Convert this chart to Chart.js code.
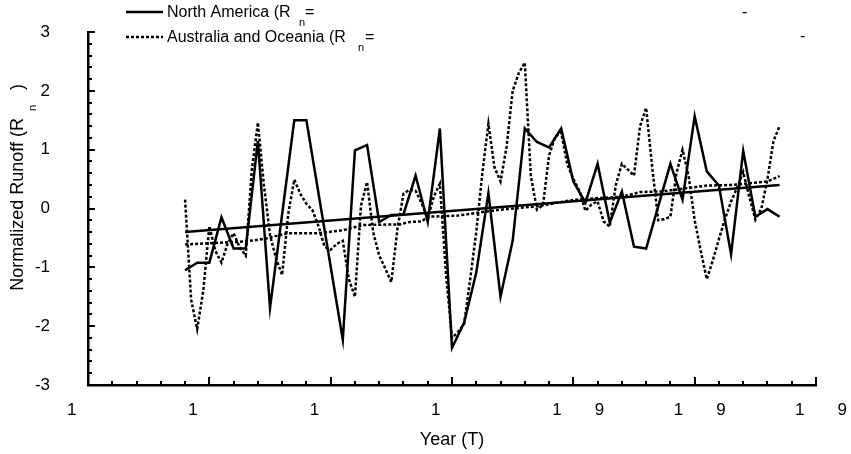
<!DOCTYPE html>
<html>
<head>
<meta charset="utf-8">
<script src="https://cdn.jsdelivr.net/npm/chart.js@4.4.0/dist/chart.umd.min.js"></script>
<style>
  html, body { margin: 0; padding: 0; background: #fff; }
  #wrap { width: 851px; height: 454px; }
</style>
</head>
<body>
<div id="wrap"><canvas id="myChart"></canvas></div>
<script>
// North America runoff (yearly steps on the x axis)
const naYears = [8, 9, 10, 11, 12, 13, 14, 15, 17, 18,
  21, 22, 23, 24, 25, 26, 27, 28, 29, 30,
  31, 32, 33, 34, 35, 36, 37, 38, 39, 40,
  41, 42, 43, 44, 45, 46, 48, 49, 50, 51,
  52, 53, 54, 55, 56, 57];
const naRunoff = [-1.05, -0.92, -0.92, -0.15, -0.68, -0.68, 1.15, -1.69, 1.50, 1.50,
  -2.23, 0.99, 1.08, -0.23, -0.11, -0.10, 0.56, -0.23, 1.36, -2.37,
  -1.94, -1.09, 0.26, -1.50, -0.55, 1.36, 1.13, 1.04, 1.36, 0.46,
  0.10, 0.76, -0.24, 0.29, -0.65, -0.68, 0.76, 0.15, 1.57, 0.63,
  0.39, -0.78, 0.98, -0.14, -0.01, -0.14];

// Australia and Oceania runoff (half steps)
const auYears = [8, 8.5, 9, 9.5, 10, 10.5, 11, 11.5, 12, 12.5,
  13, 13.5, 14, 14.5, 15, 15.5, 16, 16.5, 17, 17.5,
  18, 18.5, 19, 19.5, 20, 20.5, 21, 21.5, 22, 22.5,
  23, 23.5, 24, 24.5, 25, 25.5, 26, 26.5, 27, 27.5,
  28, 28.5, 29, 29.5, 30, 30.5, 31, 31.5, 32, 32.5,
  33, 33.5, 34, 34.5, 35, 35.5, 36, 36.5, 37, 37.5,
  38, 38.5, 39, 39.5, 40, 40.5, 41, 41.5, 42, 42.5,
  43, 43.5, 44, 44.5, 45, 45.5, 46, 46.5, 47, 47.5,
  48, 48.5, 49, 49.5, 50, 50.5, 51, 51.5, 52, 52.5,
  53, 53.5, 54, 54.5, 55, 55.5, 56, 56.5, 57];
const auRunoff = [0.15, -1.55, -2.05, -1.40, -0.30, -0.72, -0.92, -0.60, -0.42, -0.66,
  -0.80, 0.65, 1.46, 0.40, -0.45, -0.85, -1.13, -0.10, 0.49, 0.25,
  0.08, -0.03, -0.30, -0.65, -0.70, -0.60, -0.55, -1.20, -1.50, 0.05,
  0.45, -0.40, -0.80, -1.02, -1.25, -0.35, 0.25, 0.32, 0.30, 0.09,
  -0.17, 0.20, 0.42, -1.10, -2.20, -2.10, -1.96, -1.20, -0.40, 0.60,
  1.44, 0.70, 0.46, 1.05, 2.00, 2.30, 2.48, 0.55, -0.02, 0.06,
  0.90, 1.22, 1.29, 0.75, 0.50, 0.30, -0.04, 0.07, 0.12, -0.22,
  -0.31, 0.40, 0.76, 0.66, 0.56, 1.40, 1.71, 0.70, -0.20, -0.18,
  -0.14, 0.60, 1.00, 0.55, -0.20, -0.72, -1.20, -0.88, -0.52, -0.18,
  0.12, 0.35, 0.62, 0.20, -0.19, 0.00, 0.50, 1.15, 1.40];

// trend lines
const naTrendYears = [8, 57];
const naTrend = [-0.40, 0.40];
const auTrendYears = [8, 13, 14.7, 16.4, 19, 21, 22.7, 25.7, 26.5, 27.5,
  28, 30.5, 32.5, 34, 35, 36.7, 37.7, 39, 40.1, 42.3,
  44, 45.5, 47.3, 51, 53, 56, 57];
const auTrend = [-0.61, -0.56, -0.51, -0.42, -0.42, -0.37, -0.28, -0.27, -0.23, -0.22,
  -0.14, -0.12, -0.06, -0.02, 0.00, 0.03, 0.06, 0.11, 0.15, 0.18,
  0.20, 0.28, 0.29, 0.39, 0.40, 0.46, 0.55];

// axis tick labels
const xMajorValues = [0, 10, 20, 30, 40, 50, 60];
const xTickLabels = ['1', '1', '1', '1', '1       9', '1       9', '1       9'];
const yMajorValues = [-3, -2, -1, 0, 1, 2, 3];
const yTickLabels = ['-3', '-2', '-1', '0', '1', '2', '3'];

const FONT = '"Liberation Sans", Arial, Helvetica, sans-serif';

const toPoints = (xs, ys) => xs.map((x, i) => ({ x: x, y: ys[i] }));

// inward tick marks, legend and y title with subscript
const decorPlugin = {
  id: 'decor',
  afterDraw(chart) {
    const ctx = chart.ctx;
    const xs = chart.scales.x;
    const ys = chart.scales.y;
    const area = chart.chartArea;
    ctx.save();
    ctx.strokeStyle = '#000';
    ctx.lineWidth = 2;
    xs.ticks.forEach(t => {
      const px = Math.round(xs.getPixelForValue(t.value));
      const len = Math.round(t.value) % 10 === 0 ? 8 : 4;
      ctx.beginPath();
      ctx.moveTo(px, area.bottom);
      ctx.lineTo(px, area.bottom - len);
      ctx.stroke();
    });
    ys.ticks.forEach(t => {
      const py = Math.round(ys.getPixelForValue(t.value));
      const major = Math.abs(t.value - Math.round(t.value)) < 1e-6;
      ctx.beginPath();
      ctx.moveTo(area.left, py);
      ctx.lineTo(area.left + (major ? 7 : 4), py);
      ctx.stroke();
    });

    // legend
    ctx.fillStyle = '#000';
    ctx.lineWidth = 2.5;
    ctx.beginPath();
    ctx.moveTo(126, 12);
    ctx.lineTo(163, 12);
    ctx.stroke();
    ctx.setLineDash([3, 2]);
    ctx.beginPath();
    ctx.moveTo(126, 37);
    ctx.lineTo(163, 37);
    ctx.stroke();
    ctx.setLineDash([]);

    ctx.textBaseline = 'middle';
    ctx.textAlign = 'left';
    ctx.font = '16px ' + FONT;
    ctx.fillText('North America (R', 167, 13);
    ctx.fillText('Australia and Oceania (R', 167, 38);
    ctx.fillText('=', 305, 13);
    ctx.fillText('=', 365, 38);
    ctx.fillText('-', 742, 13);
    ctx.fillText('-', 800, 37);
    ctx.font = '11px ' + FONT;
    ctx.fillText('n', 299, 23);
    ctx.fillText('n', 358, 48);

    // y axis title
    ctx.font = '18px ' + FONT;
    const main = 'Normalized Runoff (R';
    const w = ctx.measureText(main).width;
    ctx.translate(18, 118 + w);
    ctx.rotate(-Math.PI / 2);
    ctx.fillText(main, 0, 0);
    ctx.fillText(')', w + 28, 0);
    ctx.font = '11px ' + FONT;
    ctx.fillText('n', w + 7, 15);
    ctx.restore();
  }
};

const ctx = document.getElementById('myChart').getContext('2d');
const chart = new Chart(ctx, {
  type: 'line',
  data: {
    datasets: [
      {
        label: 'North America',
        data: toPoints(naYears, naRunoff),
        borderColor: '#000',
        borderWidth: 2.5,
        pointRadius: 0,
        tension: 0,
        fill: false,
      },
      {
        label: 'Australia and Oceania',
        data: toPoints(auYears, auRunoff),
        borderColor: '#000',
        borderWidth: 2.5,
        borderDash: [3, 2],
        pointRadius: 0,
        tension: 0,
        fill: false,
      },
      {
        label: 'North America trend',
        data: toPoints(naTrendYears, naTrend),
        borderColor: '#000',
        borderWidth: 2.5,
        pointRadius: 0,
        fill: false,
      },
      {
        label: 'Australia and Oceania trend',
        data: toPoints(auTrendYears, auTrend),
        borderColor: '#000',
        borderWidth: 2.5,
        borderDash: [3, 2],
        pointRadius: 0,
        fill: false,
      },
    ],
  },
  options: {
    responsive: true,
    maintainAspectRatio: false,
    animation: false,
    devicePixelRatio: 1,
    layout: { padding: { left: 0, right: 35, top: 32, bottom: 0 } },
    plugins: {
      legend: { display: false },
      tooltip: { enabled: false },
    },
    scales: {
      x: {
        type: 'linear',
        min: 0,
        max: 60,
        grid: { display: false, drawTicks: false },
        border: { display: true, color: '#000', width: 2.5 },
        ticks: {
          stepSize: 2,
          autoSkip: false,
          maxRotation: 0,
          minRotation: 0,
          align: 'start',
          labelOffset: -21,
          padding: 15,
          color: '#000',
          font: { family: FONT, size: 17 },
          callback: v => {
            const i = xMajorValues.indexOf(Math.round(v));
            return i >= 0 && Math.abs(v - Math.round(v)) < 1e-6 ? xTickLabels[i] : '';
          },
        },
        title: {
          display: true,
          text: 'Year (T)',
          color: '#000',
          font: { family: FONT, size: 18 },
          padding: { top: 0, bottom: 3 },
        },
        afterFit: s => {
          s.height = 69;
          s.paddingLeft = 0;
          s.paddingRight = 0;
        },
      },
      y: {
        min: -3,
        max: 3,
        grid: { display: false, drawTicks: false },
        border: { display: true, color: '#000', width: 2.5 },
        ticks: {
          stepSize: 0.2,
          autoSkip: false,
          padding: 38,
          color: '#000',
          font: { family: FONT, size: 17 },
          callback: v => {
            const r = Math.round(v);
            if (Math.abs(v - r) > 1e-6) return '';
            return yTickLabels[yMajorValues.indexOf(r)];
          },
        },
        afterFit: s => {
          s.width = 88;
          s.paddingTop = 0;
          s.paddingBottom = 0;
        },
      },
    },
  },
  plugins: [decorPlugin],
});
</script>
</body>
</html>
